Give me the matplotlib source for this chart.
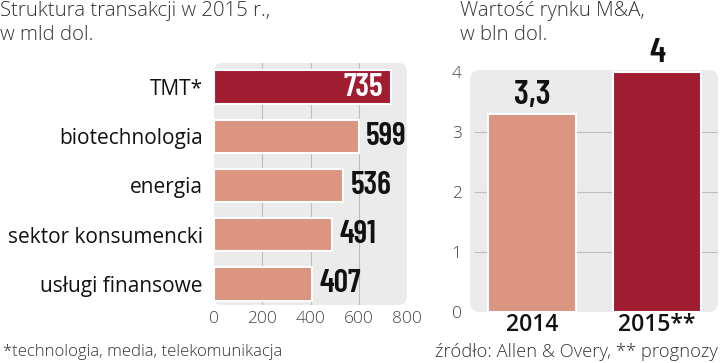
import matplotlib.pyplot as plt
from matplotlib.patches import FancyBboxPatch

# dane - struktura transakcji 2015
sektory = ["TMT*", "biotechnologia", "energia", "sektor konsumencki", "usługi finansowe"]
wartosci = [735, 599, 536, 491, 407]
# wartosc rynku M&A
lata = ["2014", "2015**"]
rynek = [3.3, 4.0]
rynek_txt = ["3,3", "4"]

ciemny = "#A01C30"
jasny = "#DC9580"
tlo = "#EBEBEB"
num_font = ["Barlow Condensed", "DejaVu Sans"]
txt_font = ["Open Sans", "DejaVu Sans"]

fig = plt.figure(figsize=(7.2, 3.63), dpi=100)
W, H = 720.0, 363.0

def tlo_patch(ax):
    p = FancyBboxPatch((0, 0), 1, 1, boxstyle="round,pad=0,rounding_size=0.04",
                       transform=ax.transAxes, facecolor=tlo, edgecolor="none",
                       zorder=0, clip_on=False)
    ax.add_patch(p)

# lewy wykres
ax1 = fig.add_axes([214 / W, (H - 305) / H, 193 / W, 242 / H])
ax1.set_facecolor("none")
tlo_patch(ax1)
kolory = [ciemny] + [jasny] * 4
ypos = list(range(len(sektory)))
ax1.barh(ypos, wartosci, height=0.68, color=kolory, edgecolor="white", linewidth=1.5, zorder=3)
ax1.set_xlim(0, 800)
ax1.set_ylim(4.43, -0.49)
for x in [200, 400, 600]:
    ax1.axvline(x, color="#BDBDBD", lw=0.8, zorder=1)
for s in ax1.spines.values():
    s.set_visible(False)
ax1.set_yticks(ypos)
ax1.set_yticklabels(sektory, fontsize=15, family=txt_font, color="#111111")
ax1.tick_params(axis="y", length=0, pad=8)
ax1.set_xticks([0, 200, 400, 600, 800])
ax1.set_xticklabels(["0", "200", "400", "600", "800"], fontsize=12.5, family=txt_font,
                    color="#444444", fontweight="light")
ax1.tick_params(axis="x", length=0, pad=4)
for i, v in enumerate(wartosci):
    if i == 0:
        ax1.text(v - 36, i, str(v), ha="right", va="center", color="white",
                 fontsize=23, fontweight=600, family=num_font, zorder=4)
    else:
        ax1.text(v + 30, i, str(v), ha="left", va="center", color="#111111",
                 fontsize=23, fontweight=600, family=num_font, zorder=4)

# prawy wykres
ax2 = fig.add_axes([470 / W, (H - 312) / H, 248 / W, 242 / H])
ax2.set_facecolor("none")
tlo_patch(ax2)
xpos = [0, 1]
ax2.bar(xpos, rynek, width=0.71, color=[jasny, ciemny], edgecolor="white", linewidth=1.5, zorder=3)
ax2.set_xlim(-0.496, 1.488)
ax2.set_ylim(0, 4.033)
for y in [1, 2, 3]:
    ax2.axhline(y, color="#BDBDBD", lw=0.8, zorder=1, xmin=0.02)
for s in ax2.spines.values():
    s.set_visible(False)
ax2.set_yticks([0, 1, 2, 3, 4])
ax2.set_yticklabels(["0", "1", "2", "3", "4"], fontsize=12.5, family=txt_font,
                    color="#444444", fontweight="light")
ax2.tick_params(axis="y", length=0, pad=6)
ax2.set_xticks(xpos)
ax2.set_xticklabels(lata, fontsize=16.5, family=txt_font, color="#111111", fontweight="semibold")
ax2.tick_params(axis="x", length=0, pad=1)
for i, v in enumerate(rynek):
    ax2.text(xpos[i], v + 0.05, rynek_txt[i], ha="center", va="bottom", color="#111111",
             fontsize=25, fontweight=600, family=num_font, zorder=4)

# tytuly i przypisy
fig.text(0 / W, 1 - 1 / H, "Struktura transakcji w 2015 r.,\nw mld dol.", ha="left", va="top",
         fontsize=14.7, family=txt_font, fontweight="light", color="#333333", linespacing=1.25)
fig.text(460 / W, 1 - 1 / H, "Wartość rynku M&A,\nw bln dol.", ha="left", va="top",
         fontsize=14.7, family=txt_font, fontweight="light", color="#333333", linespacing=1.25)
fig.text(3 / W, 1 - 352 / H, "*technologia, media, telekomunikacja", ha="left", va="center",
         fontsize=12, family=txt_font, fontweight="light", color="#333333")
fig.text(718 / W, 1 - 352 / H, "źródło: Allen & Overy, ** prognozy", ha="right", va="center",
         fontsize=13.2, family=txt_font, fontweight="light", color="#333333")

fig.savefig("out.png", dpi=100, facecolor="white")
